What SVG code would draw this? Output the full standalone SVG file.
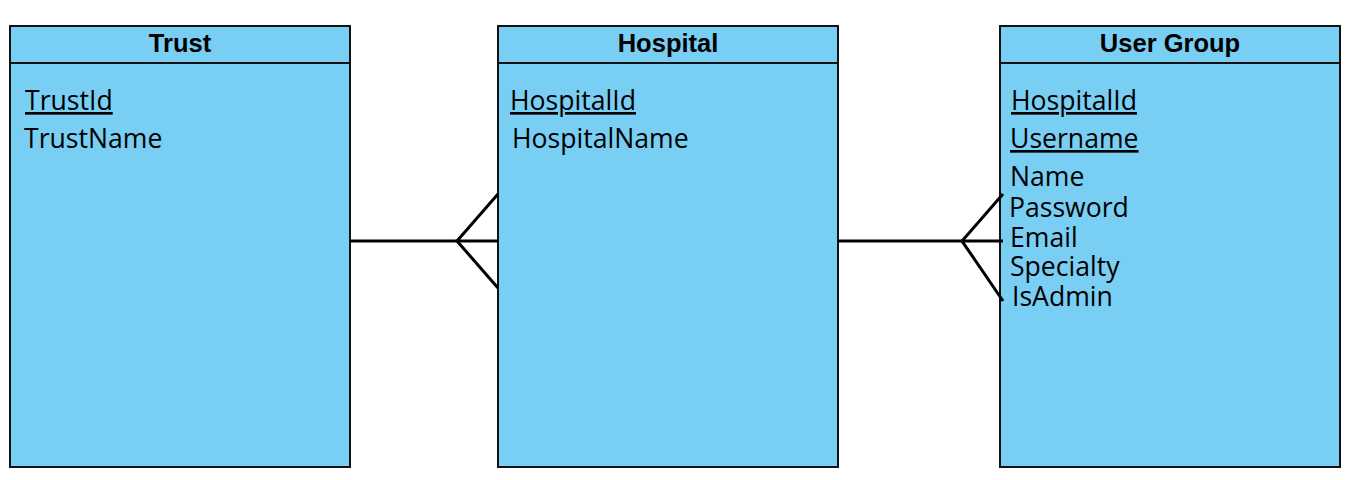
<svg xmlns="http://www.w3.org/2000/svg" width="1353" height="480" viewBox="0 0 1353 480">
<style>
.box{fill:#79CEF3;stroke:#111;stroke-width:2}
.sep{stroke:#111;stroke-width:2}
.hdr{font-family:"Liberation Sans",Arial,sans-serif;font-weight:bold;font-size:25.5px;fill:#000;text-anchor:middle}
.att{font-family:"Open Sans","Noto Sans",sans-serif;font-size:26.6px;fill:#000}
.pk{text-decoration:underline}
.conn{stroke:#000;stroke-width:3;fill:none}
</style>
<rect width="1353" height="480" fill="#fff"/>
<g id="trust">
<rect class="box" x="10" y="26" width="340" height="441"/>
<line class="sep" x1="10" y1="63" x2="350" y2="63"/>
<text class="hdr" x="180" y="52">Trust</text>
<text class="att pk" x="25" y="110">TrustId</text>
<text class="att" x="24" y="148">TrustName</text>
</g>
<g id="hospital">
<rect class="box" x="498" y="26" width="340" height="441"/>
<line class="sep" x1="498" y1="63" x2="838" y2="63"/>
<text class="hdr" x="668" y="52">Hospital</text>
<text class="att pk" x="510" y="110">HospitalId</text>
<text class="att" x="512" y="148">HospitalName</text>
</g>
<g id="usergroup">
<rect class="box" x="1000" y="26" width="340" height="441"/>
<line class="sep" x1="1000" y1="63" x2="1340" y2="63"/>
<text class="hdr" x="1170" y="52">User Group</text>
<text class="att pk" x="1011" y="110">HospitalId</text>
<text class="att pk" x="1010" y="148">Username</text>
<text class="att" x="1010" y="186">Name</text>
<text class="att" x="1009" y="217">Password</text>
<text class="att" x="1010" y="247">Email</text>
<text class="att" x="1010" y="276">Specialty</text>
<text class="att" x="1012" y="306">IsAdmin</text>
</g>
<g id="connectors">
<line class="conn" x1="350" y1="241" x2="498" y2="241"/>
<polyline class="conn" points="498,194 457,241 498,288"/>
<line class="conn" x1="838" y1="241" x2="1003" y2="241"/>
<polyline class="conn" points="1003,194 962,241 1003,301"/>
</g>
</svg>
